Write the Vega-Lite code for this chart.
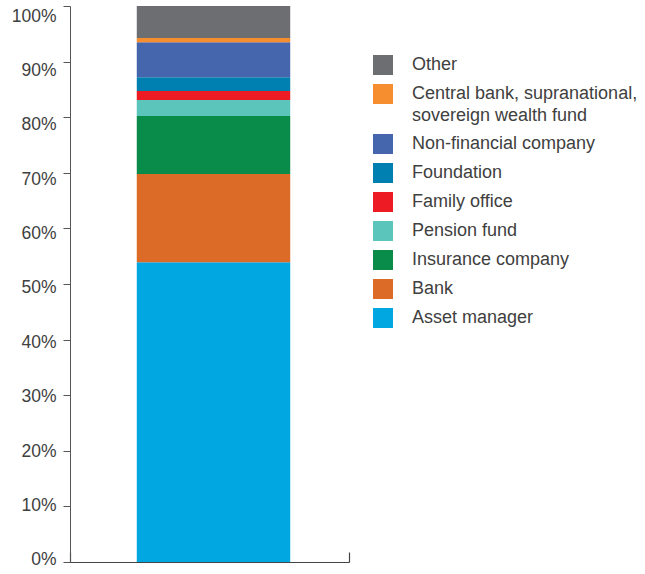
{
  "$schema": "https://vega.github.io/schema/vega-lite/v6.json",
  "autosize": "none",
  "padding": {"left": 70, "top": 6, "right": 296, "bottom": 12},
  "width": 279,
  "height": 556,
  "background": "white",
  "config": {
    "view": {"stroke": null},
    "font": "Liberation Sans"
  },
  "data": {
    "values": [
      {"group": "All", "type": "Asset manager", "share": 53.9, "rank": 1},
      {"group": "All", "type": "Bank", "share": 15.9, "rank": 2},
      {"group": "All", "type": "Insurance company", "share": 10.4, "rank": 3},
      {"group": "All", "type": "Pension fund", "share": 2.9, "rank": 4},
      {"group": "All", "type": "Family office", "share": 1.6, "rank": 5},
      {"group": "All", "type": "Foundation", "share": 2.5, "rank": 6},
      {"group": "All", "type": "Non-financial company", "share": 6.3, "rank": 7},
      {"group": "All", "type": "Central bank, supranational, sovereign wealth fund", "share": 0.75, "rank": 8},
      {"group": "All", "type": "Other", "share": 5.75, "rank": 9}
    ]
  },
  "encoding": {
    "x": {
      "field": "group",
      "type": "nominal",
      "scale": {"paddingInner": 0, "paddingOuter": 0},
      "axis": {
        "title": null,
        "labels": false,
        "domain": true,
        "domainColor": "#444444",
        "domainWidth": 1.2,
        "ticks": true,
        "tickBand": "extent",
        "tickSize": -10,
        "tickColor": "#444444",
        "tickWidth": 1.2
      }
    }
  },
  "layer": [
    {
      "mark": {"type": "bar", "width": {"band": 0.55}, "xOffset": 4},
      "encoding": {
        "y": {
          "field": "share",
          "type": "quantitative",
          "aggregate": "sum",
          "stack": "zero",
          "scale": {"domain": [0, 100], "nice": false},
          "axis": {
            "title": null,
            "values": [0, 10, 20, 30, 40, 50, 60, 70, 80, 90, 100],
            "labels": false,
            "grid": false,
            "domainColor": "#555555",
            "tickColor": "#555555",
            "tickSize": 7
          }
        },
        "order": {"field": "rank", "type": "quantitative"},
        "color": {
          "field": "type",
          "type": "nominal",
          "scale": {
            "domain": ["Other", "Central bank, supranational, sovereign wealth fund", "Non-financial company", "Foundation", "Family office", "Pension fund", "Insurance company", "Bank", "Asset manager"],
            "range": ["#6d6e71", "#f68d2e", "#4565ad", "#0080b0", "#ed1c24", "#5bc5bc", "#098b4a", "#dd6b28", "#00a7e1"]
          },
          "legend": {
            "title": null,
            "orient": "none",
            "legendX": 303,
            "legendY": 49,
            "symbolType": "square",
            "symbolSize": 400,
            "symbolStrokeWidth": 0,
            "symbolOpacity": 1,
            "labelOffset": 19,
            "rowPadding": 9,
            "labelFontSize": 18,
            "labelColor": "#404040",
            "labelLimit": 400,
            "labelExpr": "datum.label == 'Central bank, supranational, sovereign wealth fund' ? ['Central bank, supranational,', 'sovereign wealth fund'] : datum.label",
            "encode": {"labels": {"update": {"lineHeight": {"value": 22}}}}
          }
        }
      }
    },
    {
      "mark": {"type": "point", "opacity": 0},
      "encoding": {
        "y": {
          "field": "share",
          "type": "quantitative",
          "scale": {"domain": [-0.37, 101.84], "nice": false, "zero": false},
          "axis": {
            "orient": "left",
            "title": null,
            "values": [0, 10, 20, 30, 40, 50, 60, 70, 80, 90, 100],
            "labelExpr": "datum.value + '%'",
            "grid": false,
            "domain": false,
            "ticks": true,
            "tickOpacity": 0,
            "tickSize": 7,
            "labelPadding": 7,
            "labelFontSize": 17.5,
            "labelColor": "#404040"
          }
        }
      }
    }
  ],
  "resolve": {"scale": {"y": "independent"}, "axis": {"y": "independent"}}
}
